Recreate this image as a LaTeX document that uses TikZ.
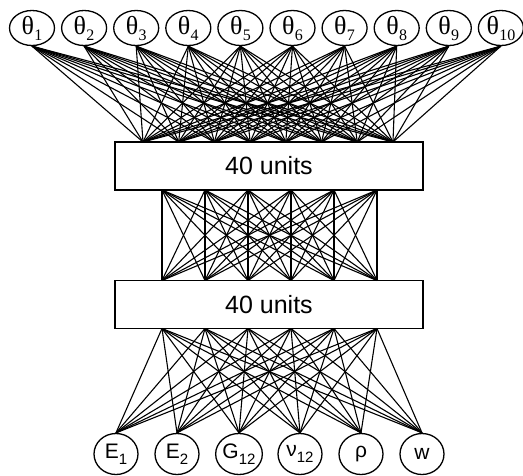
\documentclass[tikz,border=0pt]{standalone}
\usepackage{fontspec}
\setmainfont{Liberation Sans}
\newfontfamily\serifgreek{Liberation Serif}
\usetikzlibrary{shapes.geometric}
\begin{document}
\begin{tikzpicture}[x=1pt,y=-1pt,
  inputnode/.style={draw,ellipse,line width=1.3pt,minimum width=45pt,minimum height=35pt,inner sep=0pt},
  outputnode/.style={draw,ellipse,line width=1.3pt,minimum width=44pt,minimum height=41pt,inner sep=0pt},
  layerbox/.style={draw,rectangle,line width=1.3pt,minimum width=308pt,minimum height=48pt,inner sep=0pt,font=\fontsize{25}{27}\selectfont},
  link/.style={line width=1.1pt}]
\useasboundingbox (0,0) rectangle (523,475);

% hidden layers
\node[layerbox] (h1) at (269,166) {40 units};
\node[layerbox] (h2) at (269,304.5) {40 units};

% input parameters theta_1 ... theta_10
\foreach \i in {1,...,10}{
  \node[inputnode] (t\i) at ({32+52.1*(\i-1)},28)
    {\serifgreek\fontsize{26}{27}\selectfont θ\kern0.3pt\raisebox{-0.5ex}{\fontsize{16}{16}\selectfont\i}};
}

% output properties
\node[outputnode] (o1) at (116,454) {\fontsize{21}{23}\selectfont E\raisebox{-0.5ex}{\fontsize{15}{15}\selectfont 1}};
\node[outputnode] (o2) at (177,454) {\fontsize{21}{23}\selectfont E\raisebox{-0.5ex}{\fontsize{15}{15}\selectfont 2}};
\node[outputnode] (o3) at (239,454) {\fontsize{21}{23}\selectfont G\raisebox{-0.5ex}{\fontsize{15}{15}\selectfont 12}};
\node[outputnode] (o4) at (300,454) {\fontsize{21}{23}\selectfont ν\raisebox{-0.5ex}{\fontsize{15}{15}\selectfont 12}};
\node[outputnode] (o5) at (361,454) {\fontsize{21}{23}\selectfont ρ};
\node[outputnode] (o6) at (422,454) {\fontsize{21}{23}\selectfont w};

% attachment points on the hidden layer boxes
\foreach \j in {1,...,8}{
  \coordinate (a\j) at ({143+35.71*(\j-1)},142);
}
\foreach \j in {1,...,6}{
  \coordinate (b\j) at ({162+43*(\j-1)},190);
  \coordinate (c\j) at ({162+43*(\j-1)},280.5);
  \coordinate (d\j) at ({162+43*(\j-1)},328.5);
}

% input -> first hidden layer
\foreach \i in {1,...,10}{
  \foreach \j in {1,...,8}{
    \draw[link] (t\i.south) -- (a\j);
  }
}
% first -> second hidden layer
\foreach \i in {1,...,6}{
  \foreach \j in {1,...,6}{
    \draw[link] (b\i) -- (c\j);
  }
}
% second hidden layer -> outputs
\foreach \i in {1,...,6}{
  \foreach \k in {1,...,6}{
    \draw[link] (d\i) -- (o\k.north);
  }
}
\end{tikzpicture}
\end{document}
